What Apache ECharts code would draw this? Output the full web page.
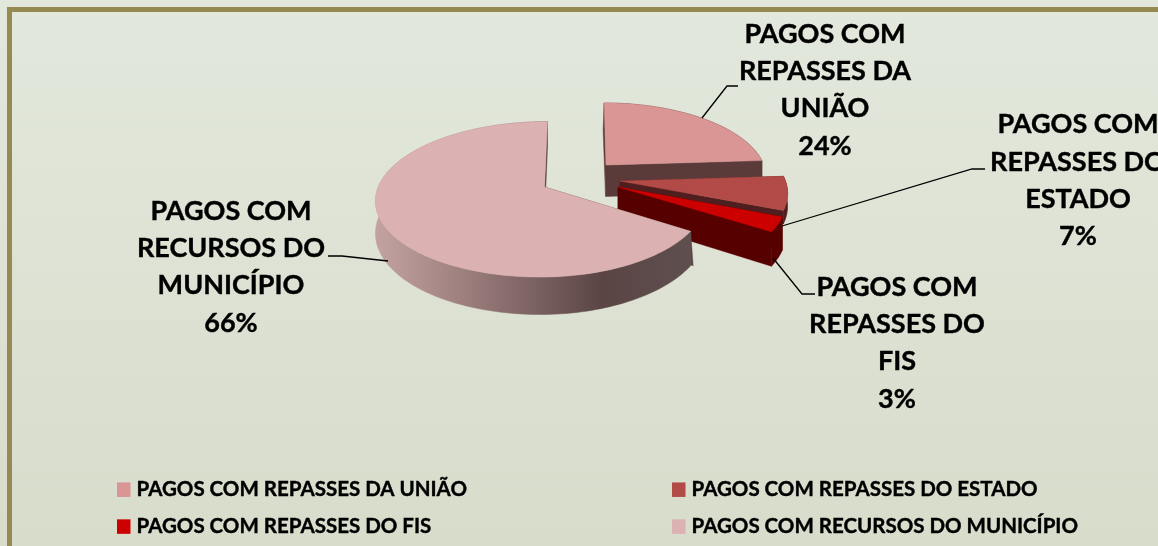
<!DOCTYPE html>
<html><head><meta charset="utf-8">
<style>html,body{margin:0;padding:0;background:#fff}#c{width:1158px;height:546px}</style>
<script src="https://cdn.jsdelivr.net/npm/echarts@6/dist/echarts.min.js"></script>
</head><body><div id="c"></div>
<script>
var categories = ['PAGOS COM REPASSES DA UNIÃO','PAGOS COM REPASSES DO ESTADO','PAGOS COM REPASSES DO FIS','PAGOS COM RECURSOS DO MUNICÍPIO'];
var values = [24, 7, 3, 66];
var labelLines = [
  ['PAGOS COM','REPASSES DA','UNIÃO'],
  ['PAGOS COM','REPASSES DO','ESTADO'],
  ['PAGOS COM','REPASSES DO','FIS'],
  ['PAGOS COM','RECURSOS DO','MUNICÍPIO']
];
var topColors = ['#D99694','#B24A47','#CC0000','#DBB1B1'];
var sideColors = ['#5A3B3A','#4E1F1E','#560000','#5A4646'];

// layout of the drawing, separate from the data
var FONT = 'Lato, "Open Sans", sans-serif';
var R = 168, B = 76.5, K = 0.159, DEPTH = 31.5;
var layout = [
  {ax:606, ay:165, sc:0.94, shear:-0.03, right:1, depth:1, lip:-1, tx:825, ty:15.5, line:[[702,118],[727,86],[738,86]]},
  {ax:620, ay:181, sc:0.985, shear:0, right:1, depth:0.4, lip:0, tx:1078, ty:106, line:[[782,226],[972,169],[985,169]]},
  {ax:618, ay:187, sc:1, shear:0, right:0.99, depth:1, lip:0, tx:897, ty:268.5, line:[[773,258],[802,294],[815,294]]},
  {ax:544.5, ay:187, sc:0.99, shear:0.045, right:0.965, depth:1, lip:2.5, tx:231, ty:192.5, line:[[388,261],[342,256],[328,256]]}
];
var total = values.reduce(function(a,b){return a+b;},0);
function startFrac(i){var s=0;for(var k=0;k<i;k++)s+=values[k];return s/total;}

function rimPoint(L, th){
  var sn=Math.sin(th), cs=Math.cos(th), s=1/(1+K*cs);
  var dy=-B*L.sc*cs*s;
  return {x:L.ax+R*L.sc*sn*s*(sn>0?L.right:1)-L.shear*dy, y:L.ay+dy, d:DEPTH*L.depth*s};
}
function poly(points, fill, z){
  return {type:'polygon', shape:{points:points}, style:{fill:fill, stroke:fill, lineWidth:0.5}, z2:z};
}
function renderSlice(i){
  return function(params, api){
    var L=layout[i], value=api.value(0);
    var a0=startFrac(i)*Math.PI*2, a1=a0+value/total*Math.PI*2;
    var n=Math.max(8,Math.round(value*2.4)), rim=[];
    for(var k=0;k<=n;k++) rim.push(rimPoint(L,a0+(a1-a0)*k/n));
    var top=[[L.ax,L.ay]], band=[], lower=[];
    rim.forEach(function(p){
      top.push([p.x,p.y]); band.push([p.x,p.y]); lower.unshift([p.x,p.y+p.d]);
    });
    var first=rim[0], last=rim[n], side=sideColors[i];
    var bandFill=side;
    if(i===3){
      bandFill={type:'linear',x:0,y:0,x2:1,y2:0,colorStops:[
        {offset:0,color:'#C3A3A1'},{offset:0.25,color:'#A18382'},{offset:0.5,color:'#7C6262'},
        {offset:0.72,color:'#5A4544'},{offset:1,color:'#5F4F4F'}]};
    }
    var children=[
      poly([[L.ax,L.ay],[last.x,last.y],[last.x,last.y+last.d],[L.ax,L.ay+DEPTH*L.depth]],side,1),
      poly([[L.ax,L.ay],[first.x,first.y],[first.x+L.lip,first.y+first.d],[L.ax+L.lip*0.5,L.ay+DEPTH*L.depth]],side,1),
      poly(band.concat(lower),bandFill,2),
      poly(top,topColors[i],3),
      {type:'polyline',shape:{points:L.line},style:{stroke:'#000',lineWidth:1.3,fill:null},z2:4},
      {type:'text',z2:5,style:{
        text:labelLines[i].concat([value+'%']).join('\n'),
        x:L.tx,y:L.ty,textAlign:'center',textVerticalAlign:'top',
        fill:'#000',fontFamily:FONT,fontWeight:'bold',fontSize:27,lineHeight:37.3,
        stroke:'#000',lineWidth:0.4}}
    ];
    return {type:'group',children:children};
  };
}
var series = categories.map(function(name,i){
  return {type:'custom',name:name,coordinateSystem:'none',silent:true,animation:false,
    itemStyle:{color:topColors[i]},data:[[values[i]]],renderItem:renderSlice(i)};
});
function legendColumn(names,left){
  return {data:names,left:left,top:479,orient:'vertical',itemWidth:13.5,itemHeight:14.5,itemGap:15.5,
    padding:0,icon:'rect',selectedMode:false,
    textStyle:{color:'#000',fontFamily:FONT,fontWeight:'bold',fontSize:20.5,padding:[0,0,0,1],
      textBorderColor:'#000',textBorderWidth:0.4}};
}
var chart=echarts.init(document.getElementById('c'),null,{renderer:'canvas'});
chart.setOption({
  animation:false,
  backgroundColor:{type:'linear',x:0,y:0,x2:0,y2:1,colorStops:[{offset:0,color:'#E3E8DD'},{offset:1,color:'#D7DCCB'}]},
  legend:[legendColumn([categories[0],categories[2]],117),legendColumn([categories[1],categories[3]],672)],
  graphic:[{type:'rect',z:-1,silent:true,shape:{x:9.5,y:9.5,width:1300,height:700},style:{fill:null,stroke:'#958B52',lineWidth:5}}],
  series:series
});
</script></body></html>
